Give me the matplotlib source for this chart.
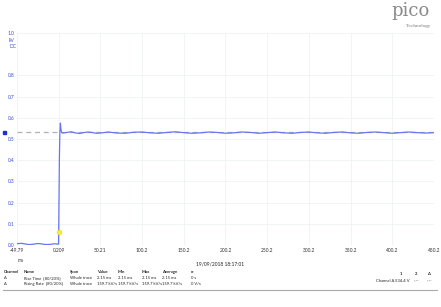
import matplotlib
matplotlib.use("Agg")
import matplotlib.pyplot as plt

plt.rcParams["font.family"] = ["Lato", "DejaVu Sans"]

# trace samples (time in ms, voltage in kV)
t_ms = [-49.79, -45, -40, -35, -30, -25, -20, -15, -10, -5, -1, 0.0, 0.209,
        1.0, 1.6, 2.2, 2.8, 3.6, 5, 10, 15, 20, 25, 30, 35, 40, 45, 50,
        60, 70, 80, 90, 100, 110, 120, 130, 140, 150, 160, 170, 180, 190,
        200, 210, 220, 230, 240, 250, 260, 270, 280, 290, 300, 310, 320,
        330, 340, 350, 360, 370, 380, 390, 400, 410, 420, 430, 440, 450.2]
v_kv = [0.006, 0.008, 0.005, 0.002, 0.004, 0.007, 0.005, 0.002, 0.003, 0.006, 0.004, 0.004, 0.06,
        0.40, 0.53, 0.575, 0.55, 0.532, 0.528, 0.531, 0.534, 0.529, 0.526, 0.530, 0.533, 0.531, 0.527, 0.528,
        0.533, 0.528, 0.527, 0.532, 0.533, 0.529, 0.527, 0.531, 0.534, 0.530, 0.527, 0.529, 0.533, 0.531,
        0.527, 0.529, 0.533, 0.531, 0.527, 0.530, 0.533, 0.529, 0.527, 0.531, 0.533, 0.529, 0.527,
        0.531, 0.533, 0.529, 0.527, 0.531, 0.533, 0.530, 0.527, 0.530, 0.533, 0.530, 0.528, 0.530]

x_ticks = [-49.79, 0.209, 50.21, 100.2, 150.2, 200.2, 250.2, 300.2, 350.2, 400.2, 450.2]
x_labels = ["-49.79", "0.209", "50.21", "100.2", "150.2", "200.2", "250.2", "300.2", "350.2", "400.2", "450.2"]
y_ticks = [0.0, 0.1, 0.2, 0.3, 0.4, 0.5, 0.6, 0.7, 0.8, 1.0]
y_labels = ["0.0", "0.1", "0.2", "0.3", "0.4", "0.5", "0.6", "0.7", "0.8", "1.0"]

level = 0.534
rule_x, rule_y = 0.209, 0.06

headers = ["Channel", "Name", "Span", "Value", "Min", "Max", "Average", "σ"]
row1 = ["A", "Rise Time  [80/20%]", "Whole trace", "2.15 ms", "2.15 ms", "2.15 ms", "2.15 ms", "0 s"]
row2 = ["A", "Rising Rate  [80/20%]", "Whole trace", "159.7 kV/s", "159.7 kV/s", "159.7 kV/s", "159.7 kV/s", "0 V/s"]
col_x = [4, 24, 70, 97, 118, 142, 162, 191]

W, H = 441, 307
fig = plt.figure(figsize=(W / 100, H / 100), dpi=100)
fig.patch.set_facecolor("white")

def px(x, y):
    return x / W, 1 - y / H

ax = fig.add_axes([17 / W, 1 - 245 / H, (434 - 17) / W, (245 - 33) / H])
ax.set_xlim(-49.79, 450.2)
ax.set_ylim(0, 1.0)
for s in ax.spines.values():
    s.set_visible(False)
ax.set_xticks(x_ticks)
ax.set_xticklabels(x_labels, fontsize=3.5, color="#333333")
ax.set_yticks(y_ticks)
ax.set_yticklabels(y_labels, fontsize=3.5, color="#3b4fd8")
ax.tick_params(length=0, pad=2)
ax.grid(color="#eef2f4", linewidth=0.6)
ax.set_axisbelow(True)

ax.axhline(level, color="#b0b0b0", linestyle=(0, (4, 3)), linewidth=0.9, zorder=2)
ax.plot(t_ms, v_kv, color="#6676f2", linewidth=0.9, zorder=3)
ax.scatter([rule_x], [rule_y], s=12, color="#f4f030", edgecolors="#e0d820", linewidths=0.4, zorder=4)

# channel level marker left of axes
fig.patches.append(plt.Rectangle(px(2.5, 134), 3 / W, 3 / H, color="#1f2fd0", transform=fig.transFigure))

fig.text(*px(9, 40), "kV", fontsize=3.5, color="#3b4fd8", va="center")
fig.text(*px(9, 47), "DC", fontsize=3.5, color="#3b4fd8", va="center")
fig.text(*px(18, 260), "ms", fontsize=3.5, color="#333333", va="center")

# logo
fig.text(*px(411, 11), "pico", fontsize=13, family="DejaVu Serif", color="#8a8a8a", ha="center", va="center")
fig.text(*px(418, 26), "Technology", fontsize=3, family="DejaVu Serif", color="#7a7a7a", ha="center", va="center")

fig.text(*px(220, 265.5), "19/09/2018 18:17:01", fontsize=3.5, color="#222222", ha="center", va="baseline")

fs = 3.0
for x, h in zip(col_x, headers):
    fig.text(*px(x, 273), h, fontsize=fs, fontweight="bold", color="#222222", va="baseline")
for x, c in zip(col_x, row1):
    fig.text(*px(x, 279), c, fontsize=fs, color="#222222", va="baseline")
for x, c in zip(col_x, row2):
    fig.text(*px(x, 285), c, fontsize=fs, color="#222222", va="baseline")

fig.text(*px(401, 275), "1", fontsize=fs, fontweight="bold", color="#222222", ha="center", va="baseline")
fig.text(*px(416, 275), "2", fontsize=fs, fontweight="bold", color="#222222", ha="center", va="baseline")
fig.text(*px(429, 275), "Δ", fontsize=fs, fontweight="bold", color="#222222", ha="center", va="baseline")
fig.text(*px(394, 282), "Channel A", fontsize=fs, color="#222222", ha="right", va="baseline")
fig.text(*px(402, 282), "534.4 V", fontsize=fs, color="#222222", ha="center", va="baseline")
fig.text(*px(416, 282), "-.--", fontsize=fs, color="#222222", ha="center", va="baseline")
fig.text(*px(429, 282), "-.--", fontsize=fs, color="#222222", ha="center", va="baseline")

fig.add_artist(plt.Line2D([3 / W, 437 / W], [1 - 290 / H] * 2, color="#aaaaaa", linewidth=0.8, transform=fig.transFigure))

fig.savefig("out.png", dpi=100)
